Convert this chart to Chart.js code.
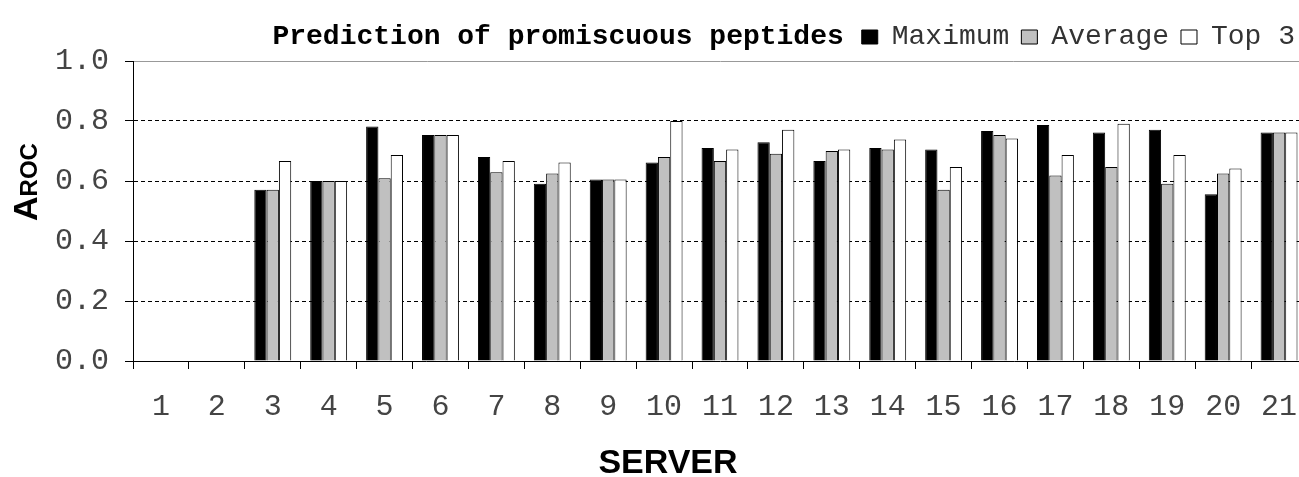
<!DOCTYPE html>
<html>
<head>
<meta charset="utf-8">
<title>Prediction of promiscuous peptides</title>
<script src="https://cdn.jsdelivr.net/npm/chart.js@4.4.1/dist/chart.umd.min.js"></script>
<style>
  html, body { margin: 0; padding: 0; background: #fff; overflow: hidden; }
  /* the plot runs a little past the right edge of the picture */
  #wrap { width: 1307px; height: 477px; position: relative; }
</style>
</head>
<body>
<div id="wrap"><canvas id="chart"></canvas></div>
<script>
// data
const servers = ['1', '2', '3', '4', '5', '6', '7', '8', '9', '10', '11',
                 '12', '13', '14', '15', '16', '17', '18', '19', '20', '21'];
const maximum = [null, null, 0.571, 0.600, 0.782, 0.753, 0.680, 0.591, 0.605, 0.662, 0.710,
                 0.729, 0.667, 0.710, 0.705, 0.767, 0.787, 0.762, 0.771, 0.556, 0.762];
const average = [null, null, 0.571, 0.600, 0.609, 0.753, 0.629, 0.625, 0.605, 0.680, 0.667,
                 0.691, 0.700, 0.705, 0.571, 0.753, 0.618, 0.647, 0.591, 0.625, 0.762];
const top3    = [null, null, 0.667, 0.600, 0.687, 0.753, 0.667, 0.662, 0.605, 0.800, 0.705,
                 0.771, 0.705, 0.738, 0.647, 0.742, 0.687, 0.791, 0.687, 0.642, 0.762];
const yTicks = [0.0, 0.2, 0.4, 0.6, 0.8, 1.0];

const titleText = 'Prediction of promiscuous peptides';
const xTitle = 'SERVER';

const mono = "'Courier New', 'Liberation Mono', monospace";
const sans = "Arial, 'Liberation Sans', sans-serif";

// title next to the legend, and the two axis titles
const extraText = {
  id: 'extraText',
  afterDraw(chart) {
    const ctx = chart.ctx;
    const area = chart.chartArea;
    const first = chart.legend.legendHitBoxes[0];
    ctx.save();
    ctx.fillStyle = '#000';

    ctx.font = 'bold 28px ' + mono;
    ctx.textAlign = 'right';
    ctx.textBaseline = 'middle';
    ctx.fillText(titleText, first.left - 18, first.top + first.height / 2);

    ctx.font = 'bold 34px ' + sans;
    ctx.textAlign = 'center';
    ctx.textBaseline = 'alphabetic';
    ctx.fillText(xTitle, area.left + 535, chart.height - 4);

    // A with small-caps ROC, turned upright
    ctx.translate(area.left - 96, area.top + 160);
    ctx.rotate(-Math.PI / 2);
    ctx.textAlign = 'left';
    ctx.font = 'bold 34px ' + sans;
    ctx.fillText('A', 0, 0);
    const w = ctx.measureText('A').width;
    ctx.font = 'bold 24px ' + sans;
    ctx.fillText('ROC', w, 0);
    ctx.restore();
  }
};

const isOne = (v) => Math.abs(v - 1) < 1e-6;

new Chart(document.getElementById('chart'), {
  type: 'bar',
  data: {
    labels: servers,
    datasets: [
      { label: 'Maximum', data: maximum, backgroundColor: '#000000', borderColor: '#000000', borderWidth: 1 },
      { label: 'Average', data: average, backgroundColor: '#c0c0c0', borderColor: '#000000', borderWidth: 1 },
      { label: 'Top 3',   data: top3,    backgroundColor: '#ffffff', borderColor: '#000000', borderWidth: 1 }
    ]
  },
  options: {
    responsive: true,
    maintainAspectRatio: false,
    animation: false,
    layout: { padding: { top: -2, right: 0, bottom: 0, left: 0 } },
    datasets: {
      bar: { categoryPercentage: 0.66, barPercentage: 1.0 }
    },
    plugins: {
      tooltip: { enabled: false },
      title: { display: false },
      legend: {
        position: 'top',
        align: 'end',
        labels: {
          boxWidth: 16,
          boxHeight: 14,
          padding: 12,
          color: '#333',
          font: { family: mono, size: 28 }
        }
      }
    },
    scales: {
      x: {
        grid: {
          offset: true,
          drawOnChartArea: false,
          drawTicks: true,
          tickLength: 8,
          tickColor: '#000',
          tickBorderDash: []
        },
        border: { color: '#000', width: 1 },
        ticks: {
          color: '#444',
          padding: 20,
          maxRotation: 0,
          autoSkip: false,
          font: { family: mono, size: 30 }
        },
        afterFit(scale) {
          scale.height = 116;
          scale.paddingLeft = 0;
          scale.paddingRight = 0;
        }
      },
      y: {
        min: 0,
        max: 1,
        afterBuildTicks(scale) { scale.ticks = yTicks.map(v => ({ value: v })); },
        grid: {
          color: (c) => c.tick && c.tick.value === 0 ? 'rgba(0,0,0,0)' : (c.tick && isOne(c.tick.value) ? '#999' : '#000'),
          lineWidth: 1,
          drawTicks: true,
          tickLength: 8,
          tickColor: '#000',
          tickBorderDash: []
        },
        border: {
          color: '#000',
          width: 1,
          dash: (c) => c.tick && isOne(c.tick.value) ? [] : [4, 3]
        },
        ticks: {
          color: '#444',
          padding: 16,
          font: { family: mono, size: 30 },
          callback: (v) => Number(v).toFixed(1)
        },
        afterFit(scale) {
          scale.width = 133;
          scale.paddingTop = 61;
        }
      }
    }
  },
  plugins: [extraText]
});
</script>
</body>
</html>
